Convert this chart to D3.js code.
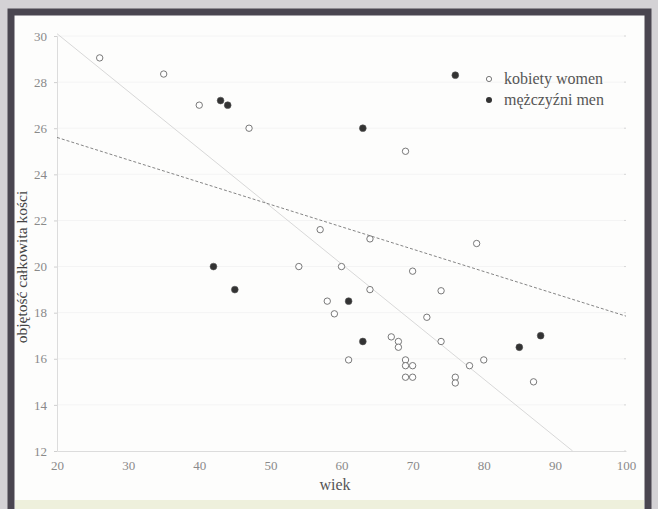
<!DOCTYPE html>
<html>
<head>
<meta charset="utf-8">
<script src="https://cdn.jsdelivr.net/npm/d3@7/dist/d3.min.js"></script>
<style>
  html, body { margin: 0; padding: 0; background: #d4d2d5; }
  svg { display: block; }
</style>
</head>
<body>
<script>
// Age (wiek) and total bone volume for women and men
const womenAge = [26, 35, 40, 47, 69, 57, 64, 79, 54, 60, 70, 64, 74, 58, 59, 72, 67, 68, 68, 74, 61, 69, 69, 70, 69, 70, 76, 76, 78, 80, 87];
const womenVol = [29.05, 28.35, 27.0, 26.0, 25.0, 21.6, 21.2, 21.0, 20.0, 20.0, 19.8, 19.0, 18.95, 18.5, 17.95, 17.8, 16.95, 16.75, 16.5, 16.75, 15.95, 15.95, 15.7, 15.7, 15.2, 15.2, 15.2, 14.95, 15.7, 15.95, 15.0];
const menAge = [43, 44, 76, 63, 42, 45, 61, 63, 85, 88];
const menVol = [27.2, 27.0, 28.3, 26.0, 20.0, 19.0, 18.5, 16.75, 16.5, 17.0];

// Fitted lines, given by their end points
const fitMen = [[20, 25.6], [100, 17.85]];
const fitWomen = [[20, 30.1], [92.5, 12]];

const xTicks = [20, 30, 40, 50, 60, 70, 80, 90, 100];
const yTicks = [12, 14, 16, 18, 20, 22, 24, 26, 28, 30];
const legendLabels = ["kobiety women", "mężczyźni men"];

const W = 658, H = 509;
const svg = d3.select("body").append("svg").attr("width", W).attr("height", H);

// paper and dark frame
svg.append("rect").attr("x", 0).attr("y", 0).attr("width", W).attr("height", H).attr("fill", "#d4d2d5");
svg.append("rect").attr("x", 11).attr("y", 12).attr("width", 637).attr("height", 520)
  .attr("fill", "#fdfdfc").attr("stroke", "#4a4650").attr("stroke-width", 7);
svg.append("rect").attr("x", 15).attr("y", 500).attr("width", 629).attr("height", 9).attr("fill", "#eef0dc");

const x = d3.scaleLinear().domain([20, 100]).range([57, 626]);
const y = d3.scaleLinear().domain([12, 30]).range([451, 36]);

const font = "'Liberation Serif', 'DejaVu Serif', serif";

// faint grid
svg.append("g").selectAll("line").data(yTicks.slice(1)).join("line")
  .attr("x1", x(20)).attr("x2", x(100)).attr("y1", d => y(d)).attr("y2", d => y(d))
  .attr("stroke", "#f4f4f4").attr("stroke-width", 1);

// axes
const xAxis = svg.append("g").attr("transform", `translate(0,${y(12)})`)
  .call(d3.axisBottom(x).tickValues(xTicks).tickSize(0).tickPadding(10));
const yAxis = svg.append("g").attr("transform", `translate(${x(20)},0)`)
  .call(d3.axisLeft(y).tickValues(yTicks).tickSize(3).tickPadding(7));
[xAxis, yAxis].forEach(g => {
  g.select(".domain").attr("stroke", "#dcdcdc");
  g.selectAll(".tick line").attr("stroke", "#cfcfcf");
  g.selectAll("text").attr("fill", "#8a8a8a").style("font-family", font).style("font-size", "13px");
});
// right-hand ticks
svg.append("g").selectAll("line").data(yTicks).join("line")
  .attr("x1", x(100) - 2).attr("x2", x(100)).attr("y1", d => y(d)).attr("y2", d => y(d))
  .attr("stroke", "#d8d8d8");

// axis titles
svg.append("text").attr("x", 335).attr("y", 490).attr("text-anchor", "middle")
  .style("font-family", font).style("font-size", "16px").attr("fill", "#555").text("wiek");
svg.append("text").attr("transform", "translate(27,267) rotate(-90)").attr("text-anchor", "middle")
  .style("font-family", font).style("font-size", "15.5px").attr("fill", "#444").text("objętość całkowita kości");

// fitted lines
const line = d3.line().x(d => x(d[0])).y(d => y(d[1]));
svg.append("path").attr("d", line(fitWomen)).attr("fill", "none")
  .attr("stroke", "#d8d8d8").attr("stroke-width", 1);
svg.append("path").attr("d", line(fitMen)).attr("fill", "none")
  .attr("stroke", "#777").attr("stroke-width", 0.9).attr("stroke-dasharray", "3,2");

// points
const women = womenAge.map((a, i) => [a, womenVol[i]]);
const men = menAge.map((a, i) => [a, menVol[i]]);
svg.append("g").selectAll("circle").data(women).join("circle")
  .attr("cx", d => x(d[0])).attr("cy", d => y(d[1])).attr("r", 3.2)
  .attr("fill", "#fff").attr("stroke", "#6a6a6a").attr("stroke-width", 0.9);
svg.append("g").selectAll("circle").data(men).join("circle")
  .attr("cx", d => x(d[0])).attr("cy", d => y(d[1])).attr("r", 3.4)
  .attr("fill", "#333").attr("stroke", "#555").attr("stroke-width", 0.6);

// legend
const leg = svg.append("g");
leg.append("circle").attr("cx", 489).attr("cy", 79).attr("r", 2.6)
  .attr("fill", "#fff").attr("stroke", "#6a6a6a").attr("stroke-width", 0.9);
leg.append("circle").attr("cx", 489).attr("cy", 100).attr("r", 3)
  .attr("fill", "#333");
leg.selectAll("text").data(legendLabels).join("text")
  .attr("x", 504).attr("y", (d, i) => 84 + i * 21)
  .style("font-family", font).style("font-size", "16px").attr("fill", "#555").text(d => d);
</script>
</body>
</html>
